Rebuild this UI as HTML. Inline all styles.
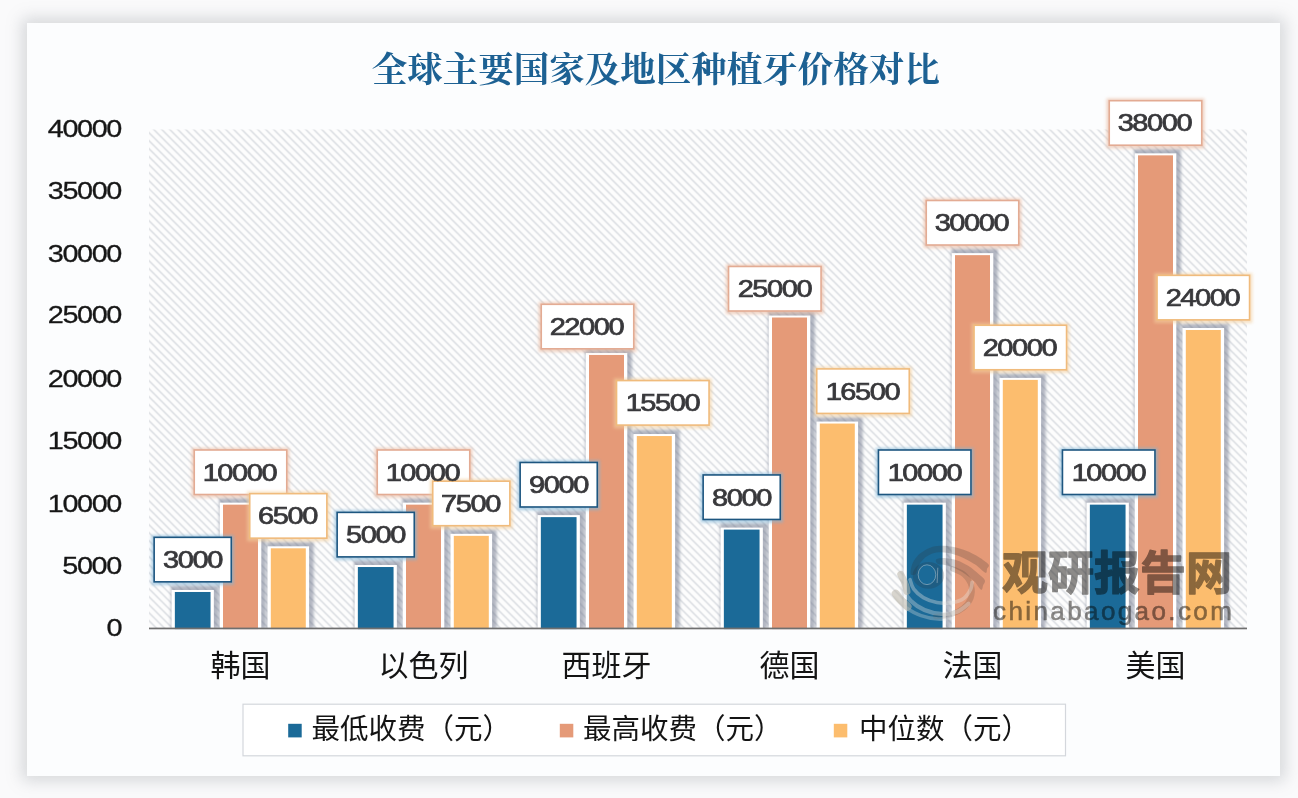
<!DOCTYPE html>
<html lang="zh"><head><meta charset="utf-8"><title>全球主要国家及地区种植牙价格对比</title><style>
html,body{margin:0;padding:0}
body{width:1298px;height:798px;background:#fafafb;position:relative;overflow:hidden;font-family:"Liberation Sans",sans-serif}
.card{position:absolute;left:27px;top:23px;width:1253px;height:753px;background:#fcfdfe;box-shadow:0 0 15px 5px rgba(120,124,134,0.27)}
svg{position:absolute;left:0;top:0}
.dl{position:absolute;display:flex;align-items:center;justify-content:center;font-size:23.2px;color:#38383b;line-height:1;-webkit-text-stroke:0.7px #38383b}
.dl span{display:inline-block;letter-spacing:-1.1px;margin-right:1.1px;transform:translateY(1px) scaleX(1.25);}
.yl{position:absolute;left:20px;width:101px;height:30px;line-height:30px;text-align:right;font-size:24px;color:#161616;-webkit-text-stroke:0.3px #161616}
.yl span{display:inline-block;letter-spacing:-1.15px;transform:scaleX(1.2);transform-origin:100% 50%}
.hid{position:absolute;color:transparent;white-space:nowrap;line-height:1;overflow:hidden}
.wmt{position:absolute;left:1002px;top:546px;font-size:46px;line-height:1;color:transparent;white-space:nowrap}
.wmu{position:absolute;left:993px;top:597.5px;font-size:26px;line-height:1;letter-spacing:2.4px;color:#8a8886;-webkit-text-stroke:0.55px #8a8886;white-space:nowrap;mix-blend-mode:multiply}
.wmu span{display:inline-block}
</style></head>
<body>
<div class="card"></div>
<svg width="1298" height="798" viewBox="0 0 1298 798">
<defs>
<pattern id="hatch" width="8" height="8" patternUnits="userSpaceOnUse" x="145.8" y="129.5">
<rect width="8" height="8" fill="#fdfdfd"/>
<path d="M-2 -2L10 10M-2 6L2 10M6 -2L10 2" stroke="#d8dbe0" stroke-width="1.4" fill="none"/>
</pattern>
<filter id="bsh" x="-40%" y="-10%" width="180%" height="120%"><feGaussianBlur in="SourceAlpha" stdDeviation="2.2"/><feOffset dx="1.5" dy="-1.5"/><feComponentTransfer><feFuncA type="linear" slope="0.5"/></feComponentTransfer><feFlood flood-color="#5d6679"/><feComposite in2="SourceGraphic" operator="in"/></filter>
<filter id="blur2" x="-30%" y="-30%" width="160%" height="160%"><feGaussianBlur stdDeviation="1.8"/></filter>
<filter id="blur15" x="-30%" y="-30%" width="160%" height="160%"><feGaussianBlur stdDeviation="1.4"/></filter>
<filter id="blur3" x="-30%" y="-30%" width="160%" height="160%"><feGaussianBlur stdDeviation="3"/></filter>
<filter id="soft6" x="-1%" y="-1%" width="102%" height="102%"><feGaussianBlur stdDeviation="0.6"/></filter>
<filter id="soft" x="-5%" y="-5%" width="110%" height="110%"><feGaussianBlur stdDeviation="0.45"/></filter>
</defs>
<rect x="149" y="129.5" width="1098" height="499" fill="url(#hatch)" filter="url(#soft6)"/>
<g id="bars">
<rect x="171.05" y="585.58" width="47.4" height="42.92" fill="#687086" opacity="0.5" filter="url(#blur15)"/>
<rect x="171.55" y="589.98" width="42.3" height="40.52" fill="#ffffff"/>
<rect x="174.85" y="591.98" width="35.7" height="38.52" fill="#1b6a98"/>
<rect x="219.2" y="498.25" width="46.7" height="130.25" fill="#687086" opacity="0.5" filter="url(#blur15)"/>
<rect x="219.7" y="502.65" width="41.6" height="127.85" fill="#ffffff"/>
<rect x="223" y="504.65" width="35" height="125.85" fill="#e59a78"/>
<rect x="267" y="541.91" width="46.7" height="86.59" fill="#687086" opacity="0.5" filter="url(#blur15)"/>
<rect x="267.5" y="546.31" width="41.6" height="84.19" fill="#ffffff"/>
<rect x="270.8" y="548.31" width="35" height="82.19" fill="#fcbd6e"/>
<rect x="354.05" y="560.62" width="47.4" height="67.88" fill="#687086" opacity="0.5" filter="url(#blur15)"/>
<rect x="354.55" y="565.02" width="42.3" height="65.48" fill="#ffffff"/>
<rect x="357.85" y="567.02" width="35.7" height="63.48" fill="#1b6a98"/>
<rect x="402.2" y="498.25" width="46.7" height="130.25" fill="#687086" opacity="0.5" filter="url(#blur15)"/>
<rect x="402.7" y="502.65" width="41.6" height="127.85" fill="#ffffff"/>
<rect x="406" y="504.65" width="35" height="125.85" fill="#e59a78"/>
<rect x="450" y="529.44" width="46.7" height="99.06" fill="#687086" opacity="0.5" filter="url(#blur15)"/>
<rect x="450.5" y="533.84" width="41.6" height="96.66" fill="#ffffff"/>
<rect x="453.8" y="535.84" width="35" height="94.66" fill="#fcbd6e"/>
<rect x="537.05" y="510.73" width="47.4" height="117.78" fill="#687086" opacity="0.5" filter="url(#blur15)"/>
<rect x="537.55" y="515.12" width="42.3" height="115.38" fill="#ffffff"/>
<rect x="540.85" y="517.12" width="35.7" height="113.38" fill="#1b6a98"/>
<rect x="585.2" y="348.55" width="46.7" height="279.95" fill="#687086" opacity="0.5" filter="url(#blur15)"/>
<rect x="585.7" y="352.95" width="41.6" height="277.55" fill="#ffffff"/>
<rect x="589" y="354.95" width="35" height="275.55" fill="#e59a78"/>
<rect x="633" y="429.64" width="46.7" height="198.86" fill="#687086" opacity="0.5" filter="url(#blur15)"/>
<rect x="633.5" y="434.04" width="41.6" height="196.46" fill="#ffffff"/>
<rect x="636.8" y="436.04" width="35" height="194.46" fill="#fcbd6e"/>
<rect x="720.05" y="523.2" width="47.4" height="105.3" fill="#687086" opacity="0.5" filter="url(#blur15)"/>
<rect x="720.55" y="527.6" width="42.3" height="102.9" fill="#ffffff"/>
<rect x="723.85" y="529.6" width="35.7" height="100.9" fill="#1b6a98"/>
<rect x="768.2" y="311.12" width="46.7" height="317.38" fill="#687086" opacity="0.5" filter="url(#blur15)"/>
<rect x="768.7" y="315.52" width="41.6" height="314.98" fill="#ffffff"/>
<rect x="772" y="317.52" width="35" height="312.98" fill="#e59a78"/>
<rect x="816" y="417.16" width="46.7" height="211.34" fill="#687086" opacity="0.5" filter="url(#blur15)"/>
<rect x="816.5" y="421.56" width="41.6" height="208.94" fill="#ffffff"/>
<rect x="819.8" y="423.56" width="35" height="206.94" fill="#fcbd6e"/>
<rect x="903.05" y="498.25" width="47.4" height="130.25" fill="#687086" opacity="0.5" filter="url(#blur15)"/>
<rect x="903.55" y="502.65" width="42.3" height="127.85" fill="#ffffff"/>
<rect x="906.85" y="504.65" width="35.7" height="125.85" fill="#1b6a98"/>
<rect x="951.2" y="248.75" width="46.7" height="379.75" fill="#687086" opacity="0.5" filter="url(#blur15)"/>
<rect x="951.7" y="253.15" width="41.6" height="377.35" fill="#ffffff"/>
<rect x="955" y="255.15" width="35" height="375.35" fill="#e59a78"/>
<rect x="999" y="373.5" width="46.7" height="255" fill="#687086" opacity="0.5" filter="url(#blur15)"/>
<rect x="999.5" y="377.9" width="41.6" height="252.6" fill="#ffffff"/>
<rect x="1002.8" y="379.9" width="35" height="250.6" fill="#fcbd6e"/>
<rect x="1086.05" y="498.25" width="47.4" height="130.25" fill="#687086" opacity="0.5" filter="url(#blur15)"/>
<rect x="1086.55" y="502.65" width="42.3" height="127.85" fill="#ffffff"/>
<rect x="1089.85" y="504.65" width="35.7" height="125.85" fill="#1b6a98"/>
<rect x="1134.2" y="148.95" width="46.7" height="479.55" fill="#687086" opacity="0.5" filter="url(#blur15)"/>
<rect x="1134.7" y="153.35" width="41.6" height="477.15" fill="#ffffff"/>
<rect x="1138" y="155.35" width="35" height="475.15" fill="#e59a78"/>
<rect x="1182" y="323.6" width="46.7" height="304.9" fill="#687086" opacity="0.5" filter="url(#blur15)"/>
<rect x="1182.5" y="328" width="41.6" height="302.5" fill="#ffffff"/>
<rect x="1185.8" y="330" width="35" height="300.5" fill="#fcbd6e"/>
</g>
<rect x="137" y="629.1" width="1122" height="9" fill="#fcfdfe"/>
<rect x="149" y="627.6" width="1098" height="1.7" fill="#6f6f6f"/>
<g id="labels">
<rect x="151.4" y="535.08" width="82.6" height="50" fill="#7fb4d6" opacity="0.6" filter="url(#blur2)"/>
<rect x="154.15" y="537.33" width="77.1" height="44.5" fill="#ffffff" stroke="#1d5680" stroke-width="1.6"/>
<rect x="334.4" y="510.12" width="82.6" height="50" fill="#7fb4d6" opacity="0.6" filter="url(#blur2)"/>
<rect x="337.15" y="512.38" width="77.1" height="44.5" fill="#ffffff" stroke="#1d5680" stroke-width="1.6"/>
<rect x="517.4" y="460.23" width="82.6" height="50" fill="#7fb4d6" opacity="0.6" filter="url(#blur2)"/>
<rect x="520.15" y="462.48" width="77.1" height="44.5" fill="#ffffff" stroke="#1d5680" stroke-width="1.6"/>
<rect x="700.4" y="472.7" width="82.6" height="50" fill="#7fb4d6" opacity="0.6" filter="url(#blur2)"/>
<rect x="703.15" y="474.95" width="77.1" height="44.5" fill="#ffffff" stroke="#1d5680" stroke-width="1.6"/>
<rect x="875.7" y="447.75" width="98" height="50" fill="#7fb4d6" opacity="0.6" filter="url(#blur2)"/>
<rect x="878.45" y="450" width="92.5" height="44.5" fill="#ffffff" stroke="#1d5680" stroke-width="1.6"/>
<rect x="1059.7" y="447.75" width="98" height="50" fill="#7fb4d6" opacity="0.6" filter="url(#blur2)"/>
<rect x="1062.45" y="450" width="92.5" height="44.5" fill="#ffffff" stroke="#1d5680" stroke-width="1.6"/>
<rect x="191.5" y="447.75" width="98" height="50" fill="#e9b9a0" opacity="0.6" filter="url(#blur2)"/>
<rect x="194.25" y="450" width="92.5" height="44.5" fill="#ffffff" stroke="#e3ab93" stroke-width="1.6"/>
<rect x="374.5" y="447.75" width="98" height="50" fill="#e9b9a0" opacity="0.6" filter="url(#blur2)"/>
<rect x="377.25" y="450" width="92.5" height="44.5" fill="#ffffff" stroke="#e3ab93" stroke-width="1.6"/>
<rect x="538.5" y="302.05" width="98" height="50" fill="#e9b9a0" opacity="0.6" filter="url(#blur2)"/>
<rect x="541.25" y="304.3" width="92.5" height="44.5" fill="#ffffff" stroke="#e3ab93" stroke-width="1.6"/>
<rect x="725.8" y="264.23" width="98" height="50" fill="#e9b9a0" opacity="0.6" filter="url(#blur2)"/>
<rect x="728.55" y="266.48" width="92.5" height="44.5" fill="#ffffff" stroke="#e3ab93" stroke-width="1.6"/>
<rect x="923.5" y="198.25" width="98" height="50" fill="#e9b9a0" opacity="0.6" filter="url(#blur2)"/>
<rect x="926.25" y="200.5" width="92.5" height="44.5" fill="#ffffff" stroke="#e3ab93" stroke-width="1.6"/>
<rect x="1106.5" y="98.45" width="98" height="50" fill="#e9b9a0" opacity="0.6" filter="url(#blur2)"/>
<rect x="1109.25" y="100.7" width="92.5" height="44.5" fill="#ffffff" stroke="#e3ab93" stroke-width="1.6"/>
<rect x="247" y="491.41" width="82.6" height="50" fill="#f3cf9d" opacity="0.6" filter="url(#blur2)"/>
<rect x="249.75" y="493.66" width="77.1" height="44.5" fill="#ffffff" stroke="#f0bb7c" stroke-width="1.6"/>
<rect x="430" y="478.94" width="82.6" height="50" fill="#f3cf9d" opacity="0.6" filter="url(#blur2)"/>
<rect x="432.75" y="481.19" width="77.1" height="44.5" fill="#ffffff" stroke="#f0bb7c" stroke-width="1.6"/>
<rect x="613.8" y="378.34" width="98" height="50" fill="#f3cf9d" opacity="0.6" filter="url(#blur2)"/>
<rect x="616.55" y="380.59" width="92.5" height="44.5" fill="#ffffff" stroke="#f0bb7c" stroke-width="1.6"/>
<rect x="814" y="366.66" width="98" height="50" fill="#f3cf9d" opacity="0.6" filter="url(#blur2)"/>
<rect x="816.75" y="368.91" width="92.5" height="44.5" fill="#ffffff" stroke="#f0bb7c" stroke-width="1.6"/>
<rect x="971.3" y="323" width="98" height="50" fill="#f3cf9d" opacity="0.6" filter="url(#blur2)"/>
<rect x="974.05" y="325.25" width="92.5" height="44.5" fill="#ffffff" stroke="#f0bb7c" stroke-width="1.6"/>
<rect x="1154.3" y="273.1" width="98" height="50" fill="#f3cf9d" opacity="0.6" filter="url(#blur2)"/>
<rect x="1157.05" y="275.35" width="92.5" height="44.5" fill="#ffffff" stroke="#f0bb7c" stroke-width="1.6"/>
</g>
<text x="655.8" y="82" text-anchor="middle" font-size="35.5" font-weight="bold" fill="#1d6193" font-family="'Liberation Serif','Noto Serif CJK SC',serif">全球主要国家及地区种植牙价格对比</text>
<text x="240.5" y="676" text-anchor="middle" font-size="30" fill="#141414" font-family="'Liberation Sans','Noto Sans CJK SC',sans-serif">韩国</text>
<text x="423.5" y="676" text-anchor="middle" font-size="30" fill="#141414" font-family="'Liberation Sans','Noto Sans CJK SC',sans-serif">以色列</text>
<text x="606.5" y="676" text-anchor="middle" font-size="30" fill="#141414" font-family="'Liberation Sans','Noto Sans CJK SC',sans-serif">西班牙</text>
<text x="789.5" y="676" text-anchor="middle" font-size="30" fill="#141414" font-family="'Liberation Sans','Noto Sans CJK SC',sans-serif">德国</text>
<text x="972.5" y="676" text-anchor="middle" font-size="30" fill="#141414" font-family="'Liberation Sans','Noto Sans CJK SC',sans-serif">法国</text>
<text x="1155.5" y="676" text-anchor="middle" font-size="30" fill="#141414" font-family="'Liberation Sans','Noto Sans CJK SC',sans-serif">美国</text>
<rect x="243" y="704.2" width="822.5" height="51.6" fill="#ffffff" stroke="#d4d7dc" stroke-width="1.2"/>
<rect x="288.2" y="723.8" width="13.5" height="13.6" fill="#1b6a98"/>
<text x="311.5" y="738.5" font-size="28.5" fill="#141414" font-family="'Liberation Sans','Noto Sans CJK SC',sans-serif">最低收费（元）</text>
<rect x="559.8" y="723.8" width="13.5" height="13.6" fill="#e59a78"/>
<text x="583" y="738.5" font-size="28.5" fill="#141414" font-family="'Liberation Sans','Noto Sans CJK SC',sans-serif">最高收费（元）</text>
<rect x="833.8" y="723.8" width="13.5" height="13.6" fill="#fcbd6e"/>
<text x="859" y="738.5" font-size="28.5" fill="#141414" font-family="'Liberation Sans','Noto Sans CJK SC',sans-serif">中位数（元）</text>
<g id="logo">
<path d="M910.72 573.92C910.21 572.14 911.1 566.59 912.64 563.2C914.18 559.82 917.06 556.21 919.97 553.61C922.89 551.02 926.74 548.95 930.13 547.64C933.51 546.32 936.52 545.85 940.28 545.72C944.04 545.59 948.36 546 952.69 546.85C957.01 547.69 961.9 549.1 966.23 550.79C970.55 552.49 974.91 554.71 978.64 557C982.36 559.29 987.15 562.58 988.56 564.56C989.98 566.53 987.62 567.47 987.1 568.84C986.57 570.22 987.38 573.51 985.41 572.79C983.43 572.08 978.83 567 975.25 564.56C971.68 562.11 967.73 559.89 963.97 558.13C960.21 556.36 956.45 554.95 952.69 553.95C948.93 552.96 944.79 552.2 941.41 552.15C938.02 552.09 935.3 552.52 932.38 553.61C929.47 554.71 926.27 556.62 923.92 558.69C921.57 560.76 919.65 563.49 918.28 566.02C916.91 568.56 916.95 572.61 915.69 573.92C914.43 575.24 911.23 575.71 910.72 573.92Z" fill="#2e2e30" opacity="0.21"/>
<path d="M936.33 559.26C937.65 558.26 942.44 557.94 945.92 558.13C949.4 558.32 953.44 559.07 957.2 560.38C960.96 561.7 964.91 563.77 968.48 566.02C972.06 568.28 975.91 571.57 978.64 573.92C981.36 576.27 984.09 578.25 984.84 580.13C985.59 582.01 983.77 583.6 983.15 585.2C982.53 586.8 982.62 590.37 981.12 589.72C979.61 589.06 976.79 583.89 974.12 581.25C971.45 578.62 968.3 576.08 965.1 573.92C961.9 571.76 958.14 569.73 954.95 568.28C951.75 566.83 948.74 565.93 945.92 565.23C943.1 564.54 939.62 565.1 938.02 564.11C936.43 563.11 935.02 560.25 936.33 559.26Z" fill="#2e2e30" opacity="0.20"/>
<path fill-rule="evenodd" fill="#2e2e30" opacity="0.20" d="M912.63 575.39a15.8 13.3 0 1 0 31.6 0a15.8 13.3 0 1 0 -31.6 0ZM918.17 574.71a8.8 9.9 0 1 0 17.6 0a8.8 9.9 0 1 0 -17.6 0Z"/>
<ellipse cx="926.97" cy="574.71" rx="8.8" ry="9.9" fill="none" stroke="#cfd6dc" stroke-width="0.9" opacity="0.5"/>
<path d="M937.8 567.72L937.12 582.95" stroke="#cfd6dc" stroke-width="1" opacity="0.45"/>
<path d="M952.69 568.84C954.57 569.78 960.87 571.67 963.97 574.49C967.07 577.31 970.18 581.82 971.3 585.77C972.43 589.72 972.15 594.42 970.74 598.18C969.33 601.94 966.23 605.6 962.84 608.33C959.46 611.06 954.95 613.18 950.43 614.54C945.92 615.89 938.21 616.13 935.77 616.45" fill="none" stroke="#4a4038" stroke-width="5.5" opacity="0.2" stroke-linecap="round"/>
<path d="M910.05 579.56C910.67 581.16 911.55 586.14 913.77 589.15C915.99 592.16 919.5 595.39 923.36 597.61C927.21 599.83 932.19 601.62 936.9 602.46C941.6 603.31 947.05 603.4 951.56 602.69C956.07 601.98 960.77 600.43 963.97 598.18C967.17 595.92 969.39 591.78 970.74 589.15C972.09 586.52 971.87 583.51 972.09 582.38" fill="none" stroke="#e6e6e2" stroke-width="3.6" opacity="0.36" stroke-linecap="round"/>
<path d="M901.92 588.02C903.43 590.19 907.19 597.33 910.95 601C914.71 604.66 919.41 607.86 924.49 610.02C929.56 612.18 935.96 613.69 941.41 613.97C946.86 614.25 952.69 613.41 957.2 611.71C961.71 610.02 966.6 605.13 968.48 603.82" fill="none" stroke="#e6e6e2" stroke-width="4.2" opacity="0.34" stroke-linecap="round"/>
<path d="M894.59 597.61C896.38 599.21 900.89 604.19 905.31 607.2C909.73 610.21 915.65 613.69 921.1 615.66C926.55 617.64 932.76 618.67 938.02 619.05C943.29 619.42 950.25 618.11 952.69 617.92" fill="none" stroke="#e6e6e2" stroke-width="3.6" opacity="0.30" stroke-linecap="round"/>
<path d="M900.79 574.49C901.26 575.43 902.77 578.25 903.61 580.13C904.46 582.01 905.31 583.89 905.87 585.77C906.44 587.65 906.81 590.47 907 591.41" fill="none" stroke="#b9b4a8" stroke-width="7" opacity="0.55" stroke-linecap="round"/>
<path d="M895.72 593.66C896.28 594.42 897.79 596.67 899.1 598.18C900.42 599.68 902.2 601.28 903.61 602.69C905.02 604.1 906.91 605.98 907.56 606.64" fill="none" stroke="#b9b4a8" stroke-width="8" opacity="0.55" stroke-linecap="round"/>
</g>
<g id="wm" style="mix-blend-mode:multiply">
<text x="1001.89" y="588.53" font-size="46" font-weight="bold" fill="#8e8c8a" stroke="#8e8c8a" stroke-width="1.3" stroke-linejoin="round" font-family="'Liberation Sans','Noto Sans CJK SC',sans-serif">观研报告网</text>
</g>
</svg>
<div class="dl" style="left:153.4px;top:536.58px;width:78.6px;height:46px"><span>3000</span></div>
<div class="dl" style="left:336.4px;top:511.62px;width:78.6px;height:46px"><span>5000</span></div>
<div class="dl" style="left:519.4px;top:461.73px;width:78.6px;height:46px"><span>9000</span></div>
<div class="dl" style="left:702.4px;top:474.2px;width:78.6px;height:46px"><span>8000</span></div>
<div class="dl" style="left:877.7px;top:449.25px;width:94px;height:46px"><span>10000</span></div>
<div class="dl" style="left:1061.7px;top:449.25px;width:94px;height:46px"><span>10000</span></div>
<div class="dl" style="left:193.5px;top:449.25px;width:94px;height:46px"><span>10000</span></div>
<div class="dl" style="left:376.5px;top:449.25px;width:94px;height:46px"><span>10000</span></div>
<div class="dl" style="left:540.5px;top:303.55px;width:94px;height:46px"><span>22000</span></div>
<div class="dl" style="left:727.8px;top:265.73px;width:94px;height:46px"><span>25000</span></div>
<div class="dl" style="left:925.5px;top:199.75px;width:94px;height:46px"><span>30000</span></div>
<div class="dl" style="left:1108.5px;top:99.95px;width:94px;height:46px"><span>38000</span></div>
<div class="dl" style="left:249px;top:492.91px;width:78.6px;height:46px"><span>6500</span></div>
<div class="dl" style="left:432px;top:480.44px;width:78.6px;height:46px"><span>7500</span></div>
<div class="dl" style="left:615.8px;top:379.84px;width:94px;height:46px"><span>15500</span></div>
<div class="dl" style="left:816px;top:368.16px;width:94px;height:46px"><span>16500</span></div>
<div class="dl" style="left:973.3px;top:324.5px;width:94px;height:46px"><span>20000</span></div>
<div class="dl" style="left:1156.3px;top:274.6px;width:94px;height:46px"><span>24000</span></div>
<div class="yl" style="top:613.4px"><span>0</span></div>
<div class="yl" style="top:551.02px"><span>5000</span></div>
<div class="yl" style="top:488.65px"><span>10000</span></div>
<div class="yl" style="top:426.27px"><span>15000</span></div>
<div class="yl" style="top:363.9px"><span>20000</span></div>
<div class="yl" style="top:300.22px"><span>25000</span></div>
<div class="yl" style="top:238.55px"><span>30000</span></div>
<div class="yl" style="top:176.18px"><span>35000</span></div>
<div class="yl" style="top:114.4px"><span>40000</span></div>
<div class="hid" style="left:372.94px;top:51.3px;font-size:35.5px;width:565.73px">全球主要国家及地区种植牙价格对比</div>
<div class="hid" style="left:212.37px;top:650.18px;font-size:30px;width:56.25px">韩国</div>
<div class="hid" style="left:381.14px;top:650.16px;font-size:30px;width:84.72px">以色列</div>
<div class="hid" style="left:563.3px;top:650.2px;font-size:30px;width:86.4px">西班牙</div>
<div class="hid" style="left:761.21px;top:650.26px;font-size:30px;width:56.58px">德国</div>
<div class="hid" style="left:944.42px;top:650.21px;font-size:30px;width:56.16px">法国</div>
<div class="hid" style="left:1127.4px;top:650.28px;font-size:30px;width:56.19px">美国</div>
<div class="hid" style="left:312.4px;top:713.2px;font-size:29.3px;width:188.67px">最低收费（元）</div>
<div class="hid" style="left:584px;top:713.29px;font-size:29.3px;width:188.67px">最高收费（元）</div>
<div class="hid" style="left:859.9px;top:713.32px;font-size:29.3px;width:159.95px">中位数（元）</div>
<div class="wmt">观研报告网</div>
<div class="wmu"><span>chinabaogao.com</span></div>
</body></html>
